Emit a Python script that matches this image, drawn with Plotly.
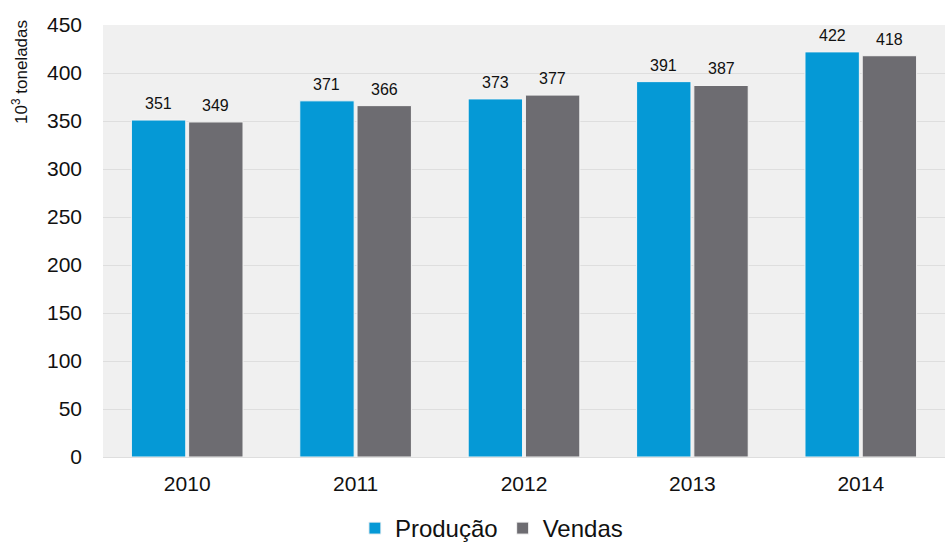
import plotly.graph_objects as go

anos = ["2010", "2011", "2012", "2013", "2014"]
producao = [351, 371, 373, 391, 422]
vendas = [349, 366, 377, 387, 418]

AZUL = "#0599d6"
CINZA = "#6d6c71"
FONTE = "Liberation Sans, Arial, sans-serif"

LARGURA, ALTURA = 945, 551
MARGEM = dict(l=103, r=0, t=25, b=94)
BARGAP, GROUPGAP = 0.32, 0.05

fig = go.Figure()
for nome, valores, cor in [("Produção", producao, AZUL), ("Vendas", vendas, CINZA)]:
    fig.add_trace(go.Bar(
        name=nome, x=anos, y=valores,
        marker=dict(color=cor, line=dict(color="#f4f4f4", width=1)),
    ))

# value labels above each bar, shifted to the centre of its slot in the group
largura_cat = (LARGURA - MARGEM["l"] - MARGEM["r"]) / len(anos)
desloc = (1 - BARGAP) * largura_cat / 4
for sinal, valores in [(-1, producao), (1, vendas)]:
    for i, v in enumerate(valores):
        fig.add_annotation(x=i, y=v, xref="x", yref="y", text=str(v),
                           showarrow=False, xshift=sinal * desloc, yshift=6,
                           yanchor="bottom", font=dict(size=16, color="#111111"))

# axis title sits at the top of the y axis
fig.add_annotation(x=0, y=1.0, xref="paper", yref="paper", xshift=-83, yshift=7,
                   text="10<sup>3</sup> toneladas", textangle=-90, showarrow=False,
                   xanchor="center", yanchor="top", font=dict(size=17, color="#111111"))

fig.update_layout(
    width=LARGURA, height=ALTURA, margin=dict(MARGEM, autoexpand=False),
    barmode="group", bargap=BARGAP, bargroupgap=GROUPGAP,
    plot_bgcolor="#f0f0f0", paper_bgcolor="white",
    font=dict(family=FONTE, color="#111111"),
    showlegend=True,
    legend=dict(orientation="h", x=0.52, xanchor="center", xref="container",
                y=0.0, yanchor="bottom", yref="container",
                font=dict(size=24), itemwidth=30, traceorder="normal"),
)
fig.update_yaxes(
    range=[0, 450], dtick=50, showgrid=True, gridcolor="#dedede", gridwidth=1,
    zeroline=False, tickfont=dict(size=21), ticklabelstandoff=20,
)
fig.update_xaxes(type="category", range=[-0.5, len(anos) - 0.5],
                 tickfont=dict(size=21), ticklabelstandoff=8,
                 showline=True, linecolor="#dedede", linewidth=1)

fig.write_html("out.html")
